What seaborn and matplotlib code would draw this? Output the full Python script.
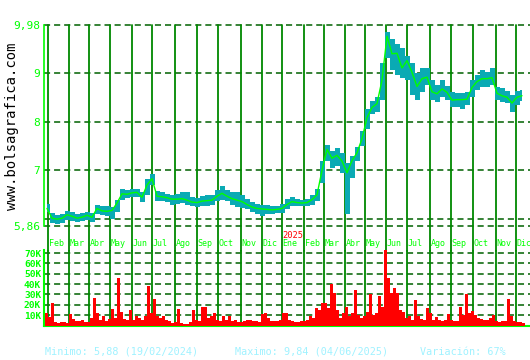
import numpy as np
import pandas as pd
import matplotlib
matplotlib.use("Agg")
import matplotlib.pyplot as plt
import seaborn as sns

# ---------------- data ----------------
# weekly samples (every 5 trading days) of the price
closes = [6.22, 6.02, 6.00, 6.02, 6.09, 6.06, 6.02, 6.04, 6.08, 6.04,
          6.22, 6.17, 6.16, 6.18, 6.33, 6.52, 6.51, 6.54, 6.55, 6.45,
          6.70, 6.83, 6.47, 6.46, 6.44, 6.41, 6.41, 6.42, 6.39, 6.35,
          6.34, 6.37, 6.38, 6.39, 6.47, 6.53, 6.47, 6.42, 6.39, 6.36,
          6.30, 6.25, 6.22, 6.21, 6.20, 6.19, 6.20, 6.22, 6.30, 6.36,
          6.34, 6.33, 6.34, 6.40, 6.50, 7.00, 7.43, 7.25, 7.31, 7.19,
          6.95, 7.20, 7.36, 7.65, 8.08, 8.29, 8.37, 8.85, 9.75, 9.39,
          9.40, 9.10, 9.25, 9.01, 8.72, 8.88, 8.91, 8.61, 8.57, 8.67,
          8.60, 8.44, 8.45, 8.45, 8.46, 8.70, 8.82, 8.88, 8.88, 8.90,
          8.58, 8.53, 8.50, 8.38, 8.50, 8.53]
highs = [6.32, 6.12, 6.08, 6.10, 6.16, 6.14, 6.10, 6.12, 6.14, 6.12,
         6.30, 6.27, 6.26, 6.24, 6.40, 6.62, 6.60, 6.62, 6.62, 6.55,
         6.82, 6.93, 6.58, 6.55, 6.52, 6.50, 6.52, 6.55, 6.55, 6.45,
         6.44, 6.48, 6.50, 6.50, 6.60, 6.68, 6.60, 6.55, 6.55, 6.50,
         6.42, 6.35, 6.32, 6.30, 6.30, 6.28, 6.27, 6.32, 6.42, 6.45,
         6.42, 6.40, 6.42, 6.50, 6.62, 7.20, 7.52, 7.40, 7.45, 7.35,
         7.15, 7.30, 7.48, 7.80, 8.25, 8.42, 8.50, 9.20, 9.84, 9.70,
         9.60, 9.50, 9.35, 9.20, 9.00, 9.10, 9.10, 8.85, 8.75, 8.85,
         8.72, 8.60, 8.58, 8.58, 8.60, 8.85, 8.95, 9.05, 9.02, 9.10,
         8.70, 8.68, 8.62, 8.55, 8.62, 8.65]
lows = [6.15, 5.92, 5.90, 5.93, 5.98, 5.97, 5.94, 5.96, 5.98, 5.95,
        6.10, 6.08, 6.06, 6.00, 6.15, 6.40, 6.43, 6.46, 6.45, 6.36,
        6.50, 6.70, 6.38, 6.38, 6.35, 6.30, 6.32, 6.34, 6.30, 6.26,
        6.24, 6.28, 6.28, 6.30, 6.38, 6.40, 6.38, 6.30, 6.25, 6.22,
        6.20, 6.14, 6.10, 6.06, 6.10, 6.10, 6.12, 6.13, 6.20, 6.27,
        6.26, 6.26, 6.27, 6.30, 6.38, 6.75, 7.20, 7.05, 7.10, 6.95,
        6.10, 6.85, 7.20, 7.50, 7.85, 8.15, 8.20, 8.45, 9.30, 9.05,
        8.95, 8.90, 8.85, 8.55, 8.45, 8.60, 8.75, 8.45, 8.40, 8.50,
        8.45, 8.30, 8.30, 8.25, 8.35, 8.50, 8.65, 8.70, 8.70, 8.75,
        8.45, 8.40, 8.38, 8.20, 8.35, 8.42]

# volume (thousands), one value per block of 3 trading days
volumes_k = [12, 8, 22, 3, 2.5, 3.5, 3, 2, 11, 6,
             4, 4, 5, 3, 3.5, 7, 27, 12, 5, 9,
             4, 6, 16, 7, 46, 13, 6, 5, 15, 5,
             9, 7, 5, 9, 38, 12, 26, 9, 7, 9,
             5, 4, 2, 3, 16, 2, 1.5, 1.5, 3, 15,
             5, 4, 18, 18, 7, 9, 12, 5, 4, 9,
             5, 9, 4, 5, 3, 3, 4, 5, 5, 4,
             4, 3, 11, 12, 7, 4, 4, 4, 5, 12,
             12, 5, 4, 3, 3, 4, 4.5, 5, 9, 7,
             17, 15, 22, 22, 17, 40, 31, 15, 7, 12,
             18, 9, 12, 34, 10, 7, 9, 13, 30, 10,
             12, 29, 18, 73, 46, 31, 36, 31, 15, 13,
             7, 9, 5, 25, 9, 6, 5, 17, 12, 5,
             8, 5, 4.5, 5, 11, 5, 4, 4, 18, 10,
             30, 12, 14, 10, 7, 6, 5, 5, 7, 10,
             4, 3, 4, 4, 26, 9, 4, 3, 3, 2]

price_ticks = [5.86, 7, 8, 9, 9.98]
price_tick_labels = ["5,86", "7", "8", "9", "9,98"]
price_grid = [5.86, 6.0, 7, 8, 9, 9.98]
vol_ticks = [10, 20, 30, 40, 50, 60, 70]
vol_tick_labels = ["10K", "20K", "30K", "40K", "50K", "60K", "70K"]
month_names = ["Ene", "Feb", "Mar", "Abr", "May", "Jun",
               "Jul", "Ago", "Sep", "Oct", "Nov", "Dic"]
market_holidays = ["2024-03-29", "2024-04-01", "2024-05-01", "2024-12-25",
                   "2024-12-26", "2025-01-01", "2025-04-18", "2025-04-21",
                   "2025-05-01"]
first_day, last_day = "2024-01-29", "2025-12-31"
footer = ["Minimo: 5,88 (19/02/2024)", "Maximo: 9,84 (04/06/2025)",
          "Variación: 67%"]

# ---------------- styling ----------------
sns.set_style("white")
MONO = "DejaVu Sans Mono"
BRIGHT = "#00FF00"
VLINE = "#008800"
HGRID = "#006000"
TEAL = "#0AAAB4"
DASH = (0, (4, 2.6))

W, H = 530, 360
fig = plt.figure(figsize=(W / 100, H / 100), dpi=100)
fig.patch.set_facecolor("white")
axp = fig.add_axes([44 / W, 1 - 226 / H, 486 / W, 201 / H])
axv = fig.add_axes([44 / W, 1 - 325.5 / H, 486 / W, 75.5 / H])

days = pd.bdate_range(first_day, last_day, freq="C", holidays=market_holidays)
xmax = 485
month_starts = [i for i in range(1, len(days))
                if days[i].month != days[i - 1].month and i < xmax]

# ---------------- price panel ----------------
px = np.arange(len(closes)) * 5 + 2
price_df = pd.DataFrame({"x": px, "close": closes, "high": highs, "low": lows})
axp.fill_between(price_df["x"], price_df["low"], price_df["high"], step="mid",
                 color=TEAL, lw=0, zorder=3)
sns.lineplot(data=price_df, x="x", y="close", ax=axp, color=BRIGHT, lw=1.0,
             zorder=4)
axp.set_xlim(-1, xmax)
axp.set_ylim(5.86, 9.98)
for g in price_grid:
    axp.axhline(g, color=HGRID, lw=1.1, ls=DASH, zorder=1, clip_on=False)
for m in month_starts:
    axp.axvline(m, ymin=-0.125, ymax=1, color=VLINE, lw=1.3, zorder=2,
                clip_on=False)
    axp.text(m + 0.5, -0.085, month_names[days[m].month - 1],
             transform=axp.get_xaxis_transform(), ha="left", va="center",
             color=BRIGHT, fontsize=6.0, family=MONO)
    if days[m].month == 1:
        axp.text(m + 0.5, -0.045, str(days[m].year),
                 transform=axp.get_xaxis_transform(), ha="left",
                 va="center", color="#FF0000", fontsize=6.3, family=MONO)
axp.set_xticks([])
axp.set_yticks(price_ticks)
axp.set_yticklabels(price_tick_labels, family=MONO, fontsize=8)
axp.tick_params(axis="y", length=0, pad=3, labelcolor=BRIGHT)
for s in ["top", "right", "bottom"]:
    axp.spines[s].set_visible(False)
axp.spines["left"].set_color(BRIGHT)
axp.spines["left"].set_linewidth(1.2)
axp.set_xlabel("")
axp.set_ylabel("")
axp.patch.set_alpha(0)

# ---------------- volume panel ----------------
vol_df = pd.DataFrame({"x": np.arange(len(volumes_k)) * 3 + 1,
                       "vol": volumes_k})
axv.bar(vol_df["x"], vol_df["vol"], width=3, color="#FF0000", lw=0, zorder=3)
axv.set_xlim(-1, xmax)
axv.set_ylim(0, 73)
for g in vol_ticks:
    axv.axhline(g, color=HGRID, lw=1.1, ls=DASH, zorder=1)
for m in month_starts:
    axv.axvline(m, color=VLINE, lw=1.3, zorder=2)
axv.set_xticks([])
axv.set_yticks(vol_ticks)
axv.set_yticklabels(vol_tick_labels, family=MONO, fontsize=6.8,
                    fontweight="bold")
axv.tick_params(axis="y", length=0, pad=2, labelcolor=BRIGHT)
for s in ["top", "right"]:
    axv.spines[s].set_visible(False)
for s in ["left", "bottom"]:
    axv.spines[s].set_color(BRIGHT)
    axv.spines[s].set_linewidth(1.5)
axv.set_xlabel("")
axv.set_ylabel("")
axv.patch.set_alpha(0)

# ---------------- texts ----------------
fig.text(12 / W, 1 - 126 / H, "www.bolsagrafica.com", rotation=90,
         ha="center", va="center", family=MONO, fontsize=10, color="black")
for xpix, t in zip([45, 235, 420], footer):
    fig.text(xpix / W, 1 - 352 / H, t, ha="left", va="center",
             family=MONO, fontsize=7.3, color="#A0F2FF")

fig.savefig("out.png", dpi=100, facecolor="white")
